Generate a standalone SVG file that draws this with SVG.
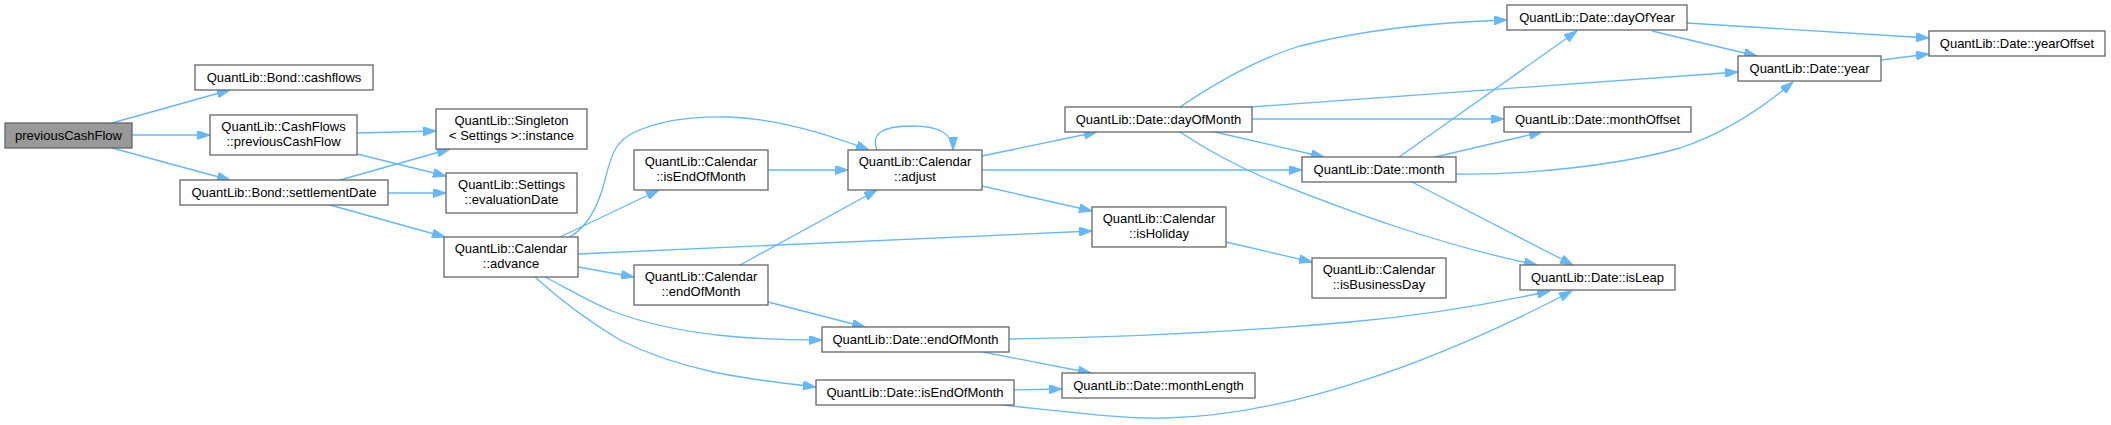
<svg xmlns="http://www.w3.org/2000/svg" width="2111" height="425" viewBox="0 0 2111 425">
<style>
.n rect{fill:#ffffff;stroke:#666666;stroke-width:1.3}
.n.root rect{fill:#999999}
.n text{font-family:"Liberation Sans",Arial,sans-serif;font-size:13px;fill:#000000;text-anchor:middle}
#edges path{fill:none;stroke:#63b8ff;stroke-width:1.3;marker-end:url(#arr)}
</style>
<defs>
<marker id="arr" viewBox="0 0 13 9" refX="13" refY="4.5" markerWidth="13" markerHeight="9" markerUnits="userSpaceOnUse" orient="auto">
<path d="M0,0 L13,4.5 L0,9 z" fill="#63b8ff" stroke="#63b8ff" stroke-width="1"/>
</marker>
</defs>
<rect x="0" y="0" width="2111" height="425" fill="#ffffff"/>
<g id="edges">
<path d="M112,123 L230,90"/>
<path d="M132,135 L210,135"/>
<path d="M112,148 L230,180"/>
<path d="M357,133 L436,131"/>
<path d="M357,154 L446,176"/>
<path d="M340,180 L450,149"/>
<path d="M388,193 L446,193"/>
<path d="M330,205 L445,237"/>
<path d="M570,237 C590,225 600,200 605,180 C612,150 618,140 635,132 C665,118 700,116 730,117 C780,119 830,135 869,150"/>
<path d="M560,237 L659,190"/>
<path d="M578,254 L1092,231"/>
<path d="M578,267 L634,277"/>
<path d="M545,277 C570,290 590,302 612,311 C680,337 760,340 822,340"/>
<path d="M535,277 C560,300 590,322 620,340 C690,375 760,380 816,387"/>
<path d="M768,170 L848,170"/>
<path d="M740,265 L877,190"/>
<path d="M768,302 L865,327"/>
<path d="M877,150 C870,132 885,126 913,126 C940,126 953,135 953,150"/>
<path d="M982,156 L1097,132"/>
<path d="M982,170 L1302,170"/>
<path d="M982,186 L1092,211"/>
<path d="M1226,242 L1312,262"/>
<path d="M1009,339 C1150,337 1260,330 1350,322 C1430,315 1500,302 1550,291"/>
<path d="M983,352 L1091,373"/>
<path d="M1014,390 L1062,389"/>
<path d="M1002,405 C1060,411 1120,419 1165,418 C1290,416 1440,360 1572,291"/>
<path d="M1180,107 C1220,80 1260,58 1300,46 C1370,28 1440,22 1507,20"/>
<path d="M1250,107 L1738,72"/>
<path d="M1252,119 L1504,119"/>
<path d="M1215,132 L1324,157"/>
<path d="M1180,132 C1210,152 1235,165 1265,178 C1350,212 1440,245 1537,265"/>
<path d="M1399,157 L1577,31"/>
<path d="M1435,157 L1542,132"/>
<path d="M1456,174 C1530,175 1620,165 1680,148 C1722,134 1760,110 1793,82"/>
<path d="M1412,182 L1573,265"/>
<path d="M1687,23 L1929,38"/>
<path d="M1652,31 L1757,56"/>
<path d="M1881,60 L1929,54"/>
</g>
<g id="n1" class="n root"><rect x="5" y="123" width="127" height="25"/><text x="68.5" y="140">previousCashFlow</text></g>
<g id="n2" class="n"><rect x="195" y="65" width="178" height="25"/><text x="284" y="82">QuantLib::Bond::cashflows</text></g>
<g id="n3" class="n"><rect x="210" y="115" width="147" height="40"/><text x="283.5" y="131">QuantLib::CashFlows</text><text x="283.5" y="146">::previousCashFlow</text></g>
<g id="n4" class="n"><rect x="180" y="180" width="208" height="25"/><text x="284" y="197">QuantLib::Bond::settlementDate</text></g>
<g id="n5" class="n"><rect x="436" y="109" width="151" height="40"/><text x="511.5" y="125">QuantLib::Singleton</text><text x="511.5" y="140">&lt; Settings &gt;::instance</text></g>
<g id="n6" class="n"><rect x="446" y="173" width="131" height="40"/><text x="511.5" y="189">QuantLib::Settings</text><text x="511.5" y="204">::evaluationDate</text></g>
<g id="n7" class="n"><rect x="444" y="237" width="134" height="40"/><text x="511" y="253">QuantLib::Calendar</text><text x="511" y="268">::advance</text></g>
<g id="n8" class="n"><rect x="634" y="150" width="134" height="40"/><text x="701" y="166">QuantLib::Calendar</text><text x="701" y="181">::isEndOfMonth</text></g>
<g id="n9" class="n"><rect x="634" y="265" width="134" height="40"/><text x="701" y="281">QuantLib::Calendar</text><text x="701" y="296">::endOfMonth</text></g>
<g id="n10" class="n"><rect x="822" y="327" width="187" height="25"/><text x="915.5" y="344">QuantLib::Date::endOfMonth</text></g>
<g id="n11" class="n"><rect x="816" y="380" width="198" height="25"/><text x="915" y="397">QuantLib::Date::isEndOfMonth</text></g>
<g id="n12" class="n"><rect x="848" y="150" width="134" height="40"/><text x="915" y="166">QuantLib::Calendar</text><text x="915" y="181">::adjust</text></g>
<g id="n13" class="n"><rect x="1065" y="107" width="187" height="25"/><text x="1158.5" y="124">QuantLib::Date::dayOfMonth</text></g>
<g id="n14" class="n"><rect x="1092" y="207" width="134" height="40"/><text x="1159" y="223">QuantLib::Calendar</text><text x="1159" y="238">::isHoliday</text></g>
<g id="n15" class="n"><rect x="1062" y="373" width="193" height="25"/><text x="1158.5" y="390">QuantLib::Date::monthLength</text></g>
<g id="n16" class="n"><rect x="1507" y="5" width="180" height="25"/><text x="1597" y="22">QuantLib::Date::dayOfYear</text></g>
<g id="n17" class="n"><rect x="1504" y="107" width="187" height="25"/><text x="1597.5" y="124">QuantLib::Date::monthOffset</text></g>
<g id="n18" class="n"><rect x="1302" y="157" width="154" height="25"/><text x="1379" y="174">QuantLib::Date::month</text></g>
<g id="n19" class="n"><rect x="1312" y="258" width="134" height="40"/><text x="1379" y="274">QuantLib::Calendar</text><text x="1379" y="289">::isBusinessDay</text></g>
<g id="n20" class="n"><rect x="1520" y="265" width="155" height="25"/><text x="1597.5" y="282">QuantLib::Date::isLeap</text></g>
<g id="n21" class="n"><rect x="1738" y="56" width="143" height="25"/><text x="1809.5" y="73">QuantLib::Date::year</text></g>
<g id="n22" class="n"><rect x="1929" y="31" width="176" height="25"/><text x="2017" y="48">QuantLib::Date::yearOffset</text></g>
</svg>
